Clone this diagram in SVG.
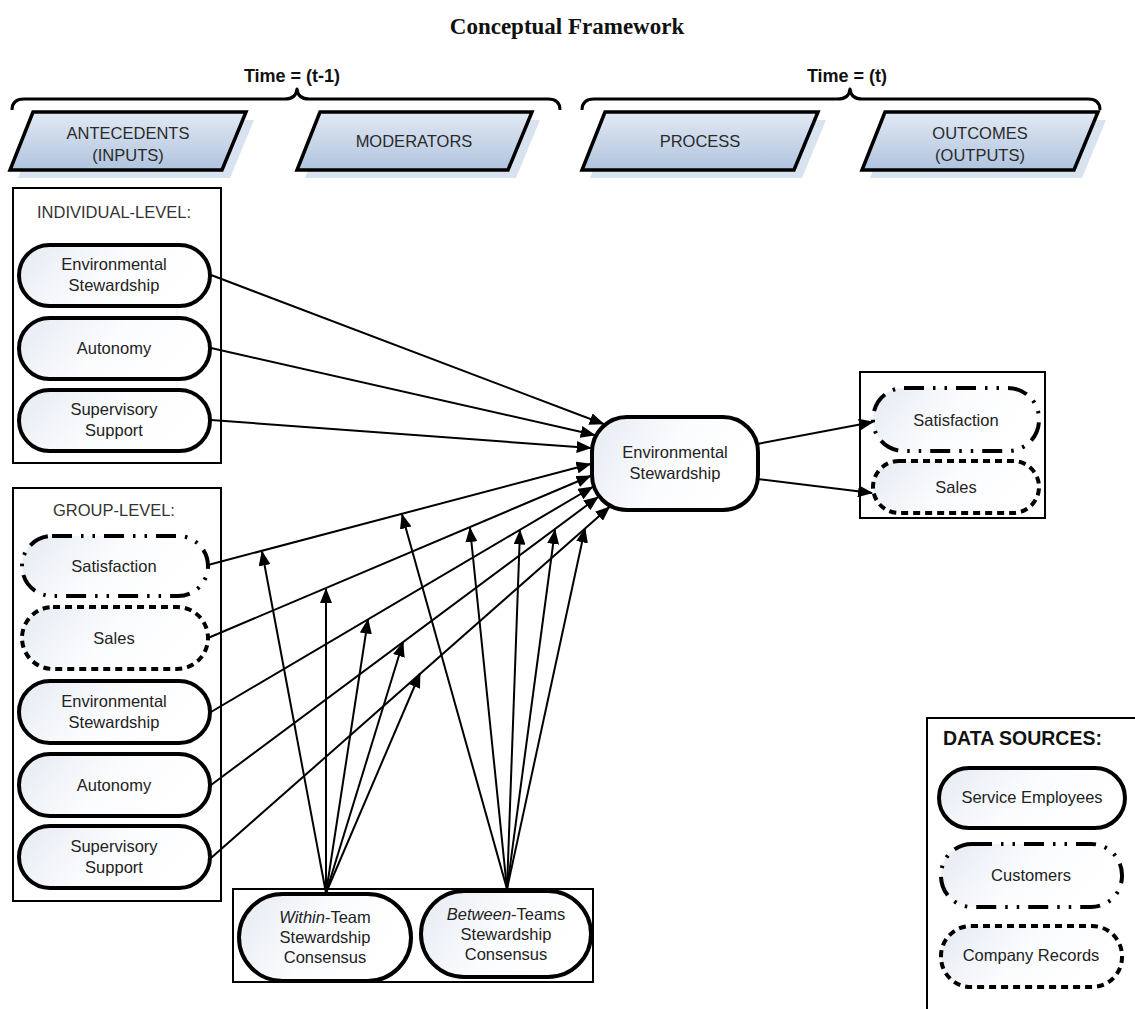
<svg xmlns="http://www.w3.org/2000/svg" width="1135" height="1009" viewBox="0 0 1135 1009">
<defs>
  <linearGradient id="paraGrad" x1="0" y1="0" x2="0" y2="1">
    <stop offset="0" stop-color="#e2e9f4"/>
    <stop offset="1" stop-color="#b0c4de"/>
  </linearGradient>
  <linearGradient id="pillGrad" x1="0" y1="0" x2="1" y2="0.3">
    <stop offset="0" stop-color="#e5eaf2"/>
    <stop offset="0.55" stop-color="#fbfcfe"/>
    <stop offset="1" stop-color="#ffffff"/>
  </linearGradient>
  <marker id="ah" markerWidth="15" markerHeight="12" refX="14" refY="6" orient="auto" markerUnits="userSpaceOnUse">
    <path d="M0,0 L15,6 L0,12 z" fill="#000"/>
  </marker>
  <style>
    .title{font-family:"Liberation Serif","Times New Roman",serif;font-weight:bold;font-size:23px;fill:#111}
    .time{font-family:"Liberation Sans",Arial,sans-serif;font-weight:bold;font-size:18px;fill:#111}
    .brace{fill:none;stroke:#000;stroke-width:3;stroke-linejoin:round}
    .para{fill:url(#paraGrad);stroke:#000;stroke-width:3.5;stroke-linejoin:miter}
    .shadow{fill:#d9e3f0}
    .ptxt{font-family:"Liberation Sans",Arial,sans-serif;font-size:16.5px;fill:#2a2a2a;text-anchor:middle}
    .box{fill:none;stroke:#000;stroke-width:2}
    .hdr{font-family:"Liberation Sans",Arial,sans-serif;font-size:16.5px;fill:#333}
    .dhdr{font-family:"Liberation Sans",Arial,sans-serif;font-size:19.5px;font-weight:bold;fill:#111}
    .pill{fill:url(#pillGrad);stroke:#000;stroke-width:4}
    .dashdot{stroke-dasharray:20 9 2.5 9 2.5 9}
    .dashed{stroke-dasharray:7 5}
    .txt{font-family:"Liberation Sans",Arial,sans-serif;font-size:16.5px;fill:#222;text-anchor:middle}
    .conn line{stroke:#000;stroke-width:2;marker-end:url(#ah)}
  </style>
</defs>
<rect width="1135" height="1009" fill="#fff"/>

<text class="title" x="567" y="34" text-anchor="middle">Conceptual Framework</text>

<g id="time-t-1">
  <text class="time" x="292" y="82" text-anchor="middle">Time = (t-1)</text>
  <path class="brace" d="M12,110 Q12,99 24,99 L285,99 Q296,99 297,89 Q298,99 309,99 L548,99 Q560,99 560,110"/>
</g>
<g id="time-t">
  <text class="time" x="847" y="82" text-anchor="middle">Time = (t)</text>
  <path class="brace" d="M582,110 Q582,99 594,99 L838,99 Q849,99 850,89 Q851,99 862,99 L1088,99 Q1100,99 1100,110"/>
</g>

<g id="antecedents">
  <polygon class="shadow" points="41,120 254,120 230,178 18,178"/>
  <polygon class="para" points="33,112 246,112 222,170 10,170"/>
  <text class="ptxt" x="128" y="139">ANTECEDENTS</text>
  <text class="ptxt" x="128" y="161">(INPUTS)</text>
</g>
<g id="moderators">
  <polygon class="shadow" points="328,120 540,120 516,178 305,178"/>
  <polygon class="para" points="320,112 532,112 508,170 297,170"/>
  <text class="ptxt" x="414" y="147">MODERATORS</text>
</g>
<g id="process">
  <polygon class="shadow" points="613,120 826,120 802,178 590,178"/>
  <polygon class="para" points="605,112 818,112 794,170 582,170"/>
  <text class="ptxt" x="700" y="147">PROCESS</text>
</g>
<g id="outcomes">
  <polygon class="shadow" points="893,120 1106,120 1082,178 870,178"/>
  <polygon class="para" points="885,112 1098,112 1074,170 862,170"/>
  <text class="ptxt" x="980" y="139">OUTCOMES</text>
  <text class="ptxt" x="980" y="161">(OUTPUTS)</text>
</g>

<g id="individual-level">
  <rect class="box" x="13" y="188" width="208" height="275"/>
  <text class="hdr" x="37" y="218">INDIVIDUAL-LEVEL:</text>
  <g id="ind-env">
    <rect class="pill" x="19" y="245" width="191" height="61" rx="30.5"/>
    <text class="txt" x="114" y="270">Environmental</text>
    <text class="txt" x="114" y="291">Stewardship</text>
  </g>
  <g id="ind-aut">
    <rect class="pill" x="19" y="318" width="191" height="61" rx="30.5"/>
    <text class="txt" x="114" y="354">Autonomy</text>
  </g>
  <g id="ind-sup">
    <rect class="pill" x="19" y="390" width="191" height="61" rx="30.5"/>
    <text class="txt" x="114" y="415">Supervisory</text>
    <text class="txt" x="114" y="436">Support</text>
  </g>
</g>

<g id="group-level">
  <rect class="box" x="13" y="488" width="208" height="413"/>
  <text class="hdr" x="53" y="516">GROUP-LEVEL:</text>
  <g id="grp-sat">
    <rect class="pill dashdot" x="22" y="536" width="186" height="60" rx="30"/>
    <text class="txt" x="114" y="572">Satisfaction</text>
  </g>
  <g id="grp-sales">
    <rect class="pill dashed" x="22" y="607" width="186" height="62" rx="31"/>
    <text class="txt" x="114" y="644">Sales</text>
  </g>
  <g id="grp-env">
    <rect class="pill" x="19" y="681" width="191" height="62" rx="31"/>
    <text class="txt" x="114" y="707">Environmental</text>
    <text class="txt" x="114" y="728">Stewardship</text>
  </g>
  <g id="grp-aut">
    <rect class="pill" x="19" y="754" width="191" height="62" rx="31"/>
    <text class="txt" x="114" y="791">Autonomy</text>
  </g>
  <g id="grp-sup">
    <rect class="pill" x="19" y="826" width="191" height="62" rx="31"/>
    <text class="txt" x="114" y="852">Supervisory</text>
    <text class="txt" x="114" y="873">Support</text>
  </g>
</g>

<g id="consensus">
  <rect class="box" x="233" y="889" width="360" height="93"/>
  <g id="within-team">
    <rect class="pill" x="239" y="894" width="172" height="87" rx="43.5"/>
    <text class="txt" x="325" y="923"><tspan font-style="italic">Within</tspan>-Team</text>
    <text class="txt" x="325" y="943">Stewardship</text>
    <text class="txt" x="325" y="963">Consensus</text>
  </g>
  <g id="between-teams">
    <rect class="pill" x="421" y="891" width="170" height="86" rx="43"/>
    <text class="txt" x="506" y="920"><tspan font-style="italic">Between</tspan>-Teams</text>
    <text class="txt" x="506" y="940">Stewardship</text>
    <text class="txt" x="506" y="960">Consensus</text>
  </g>
</g>

<g id="central-env">
  <rect class="pill" x="592" y="417" width="166" height="93" rx="35"/>
  <text class="txt" x="675" y="458">Environmental</text>
  <text class="txt" x="675" y="479">Stewardship</text>
</g>

<g id="outcomes-box">
  <rect class="box" x="860" y="372" width="185" height="146"/>
  <g id="out-sat">
    <rect class="pill dashdot" x="873" y="388" width="166" height="63" rx="31"/>
    <text class="txt" x="956" y="426">Satisfaction</text>
  </g>
  <g id="out-sales">
    <rect class="pill dashed" x="873" y="461" width="166" height="52" rx="26"/>
    <text class="txt" x="956" y="493">Sales</text>
  </g>
</g>

<g id="data-sources">
  <rect class="box" x="927" y="718" width="240" height="320"/>
  <text class="dhdr" x="943" y="745">DATA SOURCES:</text>
  <g id="ds-employees">
    <rect class="pill" x="939" y="768" width="186" height="60" rx="30"/>
    <text class="txt" x="1032" y="803">Service Employees</text>
  </g>
  <g id="ds-customers">
    <rect class="pill dashdot" x="941" y="844" width="181" height="63" rx="31"/>
    <text class="txt" x="1031" y="881">Customers</text>
  </g>
  <g id="ds-records">
    <rect class="pill dashed" x="941" y="926" width="181" height="61" rx="30"/>
    <text class="txt" x="1031" y="961">Company Records</text>
  </g>
</g>

<g id="connectors" class="conn">
  <line x1="211" y1="275" x2="603.6" y2="424"/>
  <line x1="211" y1="348" x2="594.7" y2="435"/>
  <line x1="211" y1="420" x2="590.7" y2="448"/>
  <line x1="208" y1="565" x2="590.5" y2="464"/>
  <line x1="208" y1="638" x2="590.5" y2="476"/>
  <line x1="211" y1="712" x2="592.5" y2="487"/>
  <line x1="211" y1="785" x2="598" y2="497"/>
  <line x1="211" y1="858" x2="609.5" y2="507"/>
  <line x1="326" y1="893" x2="262" y2="551.5"/>
  <line x1="326" y1="893" x2="326" y2="589"/>
  <line x1="326" y1="893" x2="368" y2="619.5"/>
  <line x1="326" y1="893" x2="403" y2="642.5"/>
  <line x1="326" y1="893" x2="420" y2="673.5"/>
  <line x1="507" y1="889" x2="402" y2="514.5"/>
  <line x1="507" y1="889" x2="470" y2="528"/>
  <line x1="507" y1="889" x2="520" y2="530.5"/>
  <line x1="507" y1="889" x2="555" y2="530"/>
  <line x1="507" y1="889" x2="585" y2="528.5"/>
  <line x1="757" y1="444" x2="873" y2="422"/>
  <line x1="757" y1="479" x2="872" y2="493"/>
</g>
</svg>
